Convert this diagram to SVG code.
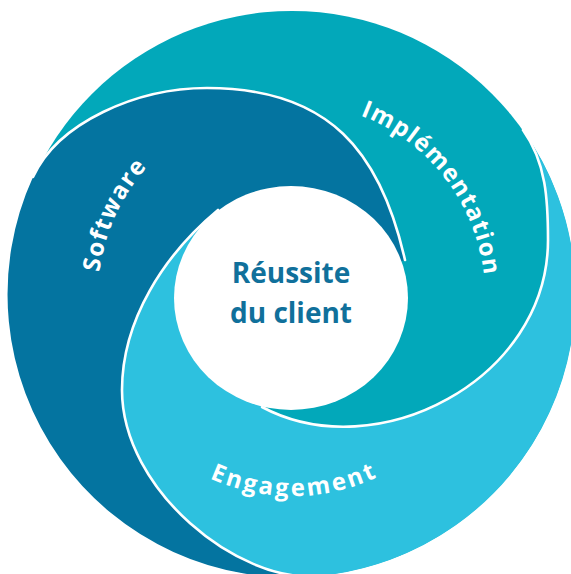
<svg xmlns="http://www.w3.org/2000/svg" width="571" height="574" viewBox="0 0 571 574">
<style>
.lbl{font-family:"Open Sans","Noto Sans","DejaVu Sans",sans-serif;font-weight:700;font-size:24px;fill:#ffffff}
.ctr{font-family:"Open Sans","Noto Sans","DejaVu Sans",sans-serif;font-weight:700;font-size:28px;fill:#10709B;text-anchor:middle}
.sep{fill:none;stroke:#ffffff;stroke-width:2.6;stroke-linecap:round}
</style>
<defs>
<path id="pSoftware" d="M105.1,347.8 A194,194 0 0 1 208.5,120.9"/>
<path id="pImpl" d="M333.4,107.5 A193,193 0 0 1 484.8,304.1"/>
<path id="pEng" d="M152.4,439.3 A200,200 0 0 0 435.3,435.6"/>
</defs>
<rect width="571" height="574" fill="#ffffff"/>
<g id="implementation">
<circle cx="292" cy="294" r="283" fill="#02A8BA"/>
</g>
<g id="software">
<path fill="#0474A0" d="M318,576 A283,283 0 0 1 33,177 C58,122.4 137,88 207,88 C330,88 380.8,152.6 405,260 L292,298 L218,210 C164.1,254.8 122,320 122,390 C122,490 238.3,583.4 318,576 Z"/>
</g>
<g id="engagement">
<path fill="#2DC1DF" d="M523,130 A283,283 0 0 1 318,576 C238.3,583.4 122,490 122,390 C122,320 164.1,254.8 218,210 L292,298 L262,407 C376.4,468.1 548,380 548,240 C548,200 546.2,162.6 523,130 Z"/>
</g>
<g id="connectors">
<path class="sep" d="M33,177 C58,122.4 137,88 207,88 C330,88 380.8,152.6 405,260"/>
<path class="sep" d="M523,130 C546.2,162.6 548,200 548,240 C548,380 376.4,468.1 262,407"/>
<path class="sep" d="M318,576 C238.3,583.4 122,490 122,390 C122,320 164.1,254.8 218,210"/>
</g>
<g id="center">
<ellipse cx="291" cy="298" rx="117" ry="112" fill="#ffffff"/>
<text class="ctr" x="291" y="283">Réussite</text>
<text class="ctr" x="291" y="323">du client</text>
</g>
<g id="labels">
<text class="lbl" letter-spacing="1.3"><textPath href="#pSoftware" startOffset="50%" text-anchor="middle">Software</textPath></text>
<text class="lbl" letter-spacing="1.3"><textPath href="#pImpl" startOffset="50%" text-anchor="middle">Implémentation</textPath></text>
<text class="lbl" letter-spacing="2.6"><textPath href="#pEng" startOffset="50%" text-anchor="middle">Engagement</textPath></text>
</g>
</svg>
